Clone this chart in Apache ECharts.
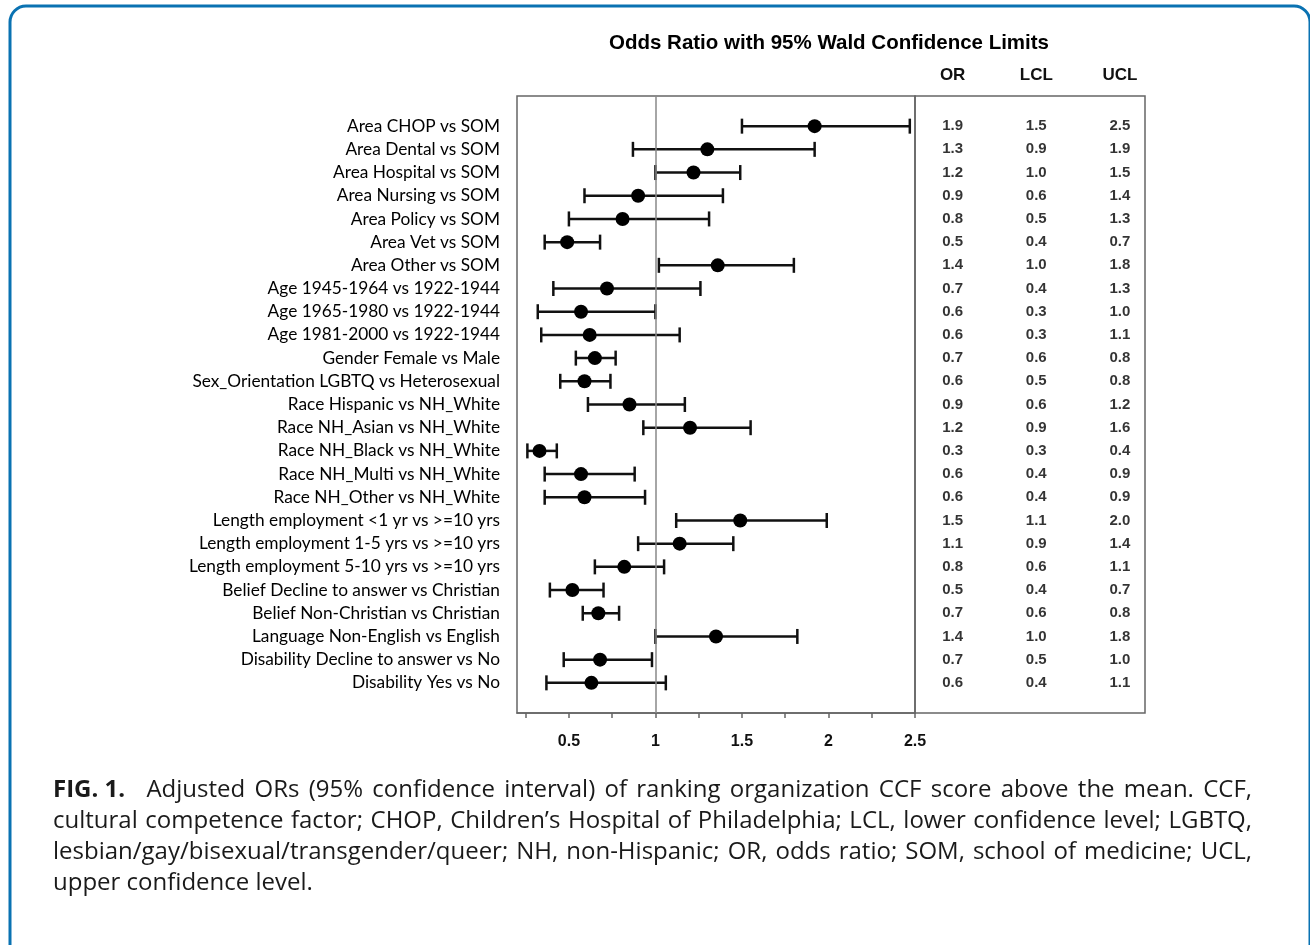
<!DOCTYPE html>
<html><head><meta charset="utf-8">
<script src="https://cdn.jsdelivr.net/npm/echarts@6/dist/echarts.min.js"></script>
<style>html,body{margin:0;padding:0;background:#fff}#c{width:1310px;height:945px}</style>
</head><body><div id="c"></div>
<script>
const categories = [
  'Area CHOP vs SOM','Area Dental vs SOM','Area Hospital vs SOM','Area Nursing vs SOM',
  'Area Policy vs SOM','Area Vet vs SOM','Area Other vs SOM','Age 1945-1964 vs 1922-1944',
  'Age 1965-1980 vs 1922-1944','Age 1981-2000 vs 1922-1944','Gender Female vs Male',
  'Sex_Orientation LGBTQ vs Heterosexual','Race Hispanic vs NH_White','Race NH_Asian vs NH_White',
  'Race NH_Black vs NH_White','Race NH_Multi vs NH_White','Race NH_Other vs NH_White',
  'Length employment <1 yr vs >=10 yrs','Length employment 1-5 yrs vs >=10 yrs',
  'Length employment 5-10 yrs vs >=10 yrs','Belief Decline to answer vs Christian',
  'Belief Non-Christian vs Christian','Language Non-English vs English',
  'Disability Decline to answer vs No','Disability Yes vs No'
];
const orValues  = [1.92,1.30,1.22,0.90,0.81,0.49,1.36,0.72,0.57,0.62,0.65,0.59,0.85,1.20,0.33,0.57,0.59,1.49,1.14,0.82,0.52,0.67,1.35,0.68,0.63];
const lclValues = [1.50,0.87,1.00,0.59,0.50,0.36,1.02,0.41,0.32,0.34,0.54,0.45,0.61,0.93,0.26,0.36,0.36,1.12,0.90,0.65,0.39,0.58,1.00,0.47,0.37];
const uclValues = [2.47,1.92,1.49,1.39,1.31,0.68,1.80,1.26,1.00,1.14,0.77,0.74,1.17,1.55,0.43,0.88,0.94,1.99,1.45,1.05,0.70,0.79,1.82,0.98,1.06];
const orText  = ['1.9','1.3','1.2','0.9','0.8','0.5','1.4','0.7','0.6','0.6','0.7','0.6','0.9','1.2','0.3','0.6','0.6','1.5','1.1','0.8','0.5','0.7','1.4','0.7','0.6'];
const lclText = ['1.5','0.9','1.0','0.6','0.5','0.4','1.0','0.4','0.3','0.3','0.6','0.5','0.6','0.9','0.3','0.4','0.4','1.1','0.9','0.6','0.4','0.6','1.0','0.5','0.4'];
const uclText = ['2.5','1.9','1.5','1.4','1.3','0.7','1.8','1.3','1.0','1.1','0.8','0.8','1.2','1.6','0.4','0.9','0.9','2.0','1.4','1.1','0.7','0.8','1.8','1.0','1.1'];
const xTickLabels = [0.5, 1, 1.5, 2, 2.5];
const xMinorTicks = [0.25, 0.5, 0.75, 1, 1.25, 1.5, 1.75, 2, 2.25, 2.5];
const tableHeaders = ['OR', 'LCL', 'UCL'];
const titleText = 'Odds Ratio with 95% Wald Confidence Limits';
const captionLead = 'FIG. 1.';
const captionLines = [
  'Adjusted ORs (95% confidence interval) of ranking organization CCF score above the mean. CCF,',
  'cultural competence factor; CHOP, Children\u2019s Hospital of Philadelphia; LCL, lower confidence level; LGBTQ,',
  'lesbian/gay/bisexual/transgender/queer; NH, non-Hispanic; OR, odds ratio; SOM, school of medicine; UCL,',
  'upper confidence level.'
];

const rowIdx = categories.map((_, i) => i);
const barData = categories.map((_, i) => [lclValues[i], uclValues[i], i]);
const pointData = categories.map((_, i) => [orValues[i], i]);
const tableData = [];
[orText, lclText, uclText].forEach((col, c) => col.forEach((t, i) => tableData.push([c, i, t])));

// justified caption (text layout only)
const capFont = 24, capLeft = 53, capRight = 1252, capTop = 790, capLH = 31;
const mctx = document.createElement('canvas').getContext('2d');
const fontStr = b => (b ? 'bold ' : '') + capFont + 'px "Open Sans"';
const measure = (t, b) => { mctx.font = fontStr(b); return mctx.measureText(t).width; };
const captionGraphics = [];
captionLines.forEach((line, li) => {
  const toks = line.split(' ').map(t => ({ t, b: false }));
  if (li === 0) toks.unshift({ t: captionLead, b: true, extra: 12 });
  const widths = toks.map(k => measure(k.t, k.b));
  const extraSum = toks.reduce((s, k) => s + (k.extra || 0), 0);
  const total = widths.reduce((s, w) => s + w, 0) + extraSum;
  const last = li === captionLines.length - 1;
  const gap = last ? measure(' ', false) : (capRight - capLeft - total) / (toks.length - 1);
  let x = capLeft;
  toks.forEach((k, i) => {
    captionGraphics.push({ type: 'text', x: x, y: capTop + li * capLH, silent: true,
      style: { text: k.t, font: fontStr(k.b), fill: '#1a1a1a', textVerticalAlign: 'middle' } });
    x += widths[i] + gap + (k.extra || 0);
  });
});

const chart = echarts.init(document.getElementById('c'));
const yBase = { type: 'value', min: -1.3, max: 25.3, inverse: true,
  axisLine: { show: false }, axisTick: { show: false }, splitLine: { show: false } };

chart.setOption({
  animation: false,
  grid: [
    { left: 517, top: 96, width: 398, height: 617, show: true, borderColor: '#666', borderWidth: 1.5 },
    { left: 915, top: 96, width: 230, height: 617, show: true, borderColor: '#666', borderWidth: 1.5 }
  ],
  xAxis: [
    { gridIndex: 0, type: 'value', min: 0.2, max: 2.5, splitLine: { show: false },
      axisLine: { show: true, onZero: false, lineStyle: { color: '#666', width: 1.5 } },
      axisTick: { show: true, customValues: xMinorTicks, length: 5, lineStyle: { color: '#666', width: 1.5 } },
      axisLabel: { customValues: xTickLabels, formatter: v => String(v), margin: 21,
        fontFamily: 'Liberation Sans, Arial', fontWeight: 'bold', fontSize: 16, color: '#111' } },
    { gridIndex: 1, type: 'value', min: -0.45, max: 2.3, position: 'top', splitLine: { show: false },
      axisLine: { show: false, onZero: false }, axisTick: { show: false },
      axisLabel: { customValues: [0, 1, 2], formatter: v => tableHeaders[v], margin: 12,
        fontFamily: 'Liberation Sans, Arial', fontWeight: 'bold', fontSize: 17, color: '#111' } }
  ],
  yAxis: [
    Object.assign({ gridIndex: 0,
      axisLabel: { customValues: rowIdx, formatter: v => categories[v], margin: 17,
        fontFamily: 'Lato', fontSize: 17.3, color: '#000' } }, yBase),
    Object.assign({ gridIndex: 1, axisLabel: { show: false } }, yBase)
  ],
  series: [
    { type: 'custom', xAxisIndex: 0, yAxisIndex: 0, data: barData, silent: true,
      renderItem: (params, api) => {
        const a = api.coord([api.value(0), api.value(2)]);
        const b = api.coord([api.value(1), api.value(2)]);
        const h = 7.5;
        const st = { stroke: '#111', lineWidth: 2.5 };
        return { type: 'group', children: [
          { type: 'line', shape: { x1: a[0], y1: a[1], x2: b[0], y2: b[1] }, style: st },
          { type: 'line', shape: { x1: a[0], y1: a[1] - h, x2: a[0], y2: a[1] + h }, style: st },
          { type: 'line', shape: { x1: b[0], y1: b[1] - h, x2: b[0], y2: b[1] + h }, style: st }
        ]};
      }, z: 3 },
    { type: 'scatter', xAxisIndex: 0, yAxisIndex: 0, data: pointData, symbol: 'circle', symbolSize: 14,
      itemStyle: { color: '#000', opacity: 1 }, z: 4,
      markLine: { silent: true, symbol: 'none', label: { show: false },
        lineStyle: { color: '#888', width: 1.5, type: 'solid' }, data: [{ xAxis: 1 }] } },
    { type: 'scatter', xAxisIndex: 1, yAxisIndex: 1, data: tableData, symbolSize: 0.1,
      itemStyle: { color: 'transparent' },
      label: { show: true, position: 'inside', formatter: p => p.value[2],
        fontFamily: 'Liberation Sans, Arial', fontWeight: 'bold', fontSize: 15, color: '#000' } }
  ],
  graphic: [
    { type: 'rect', shape: { x: 10, y: 6, width: 1300, height: 960, r: 16 },
      style: { fill: 'none', stroke: '#0a72b2', lineWidth: 3 }, silent: true },
    { type: 'text', x: 829, y: 43, style: { text: titleText, textAlign: 'center', textVerticalAlign: 'middle',
      font: 'bold 20.5px "Liberation Sans", Arial', fill: '#000' } }
  ].concat(captionGraphics)
});
</script>
</body></html>
